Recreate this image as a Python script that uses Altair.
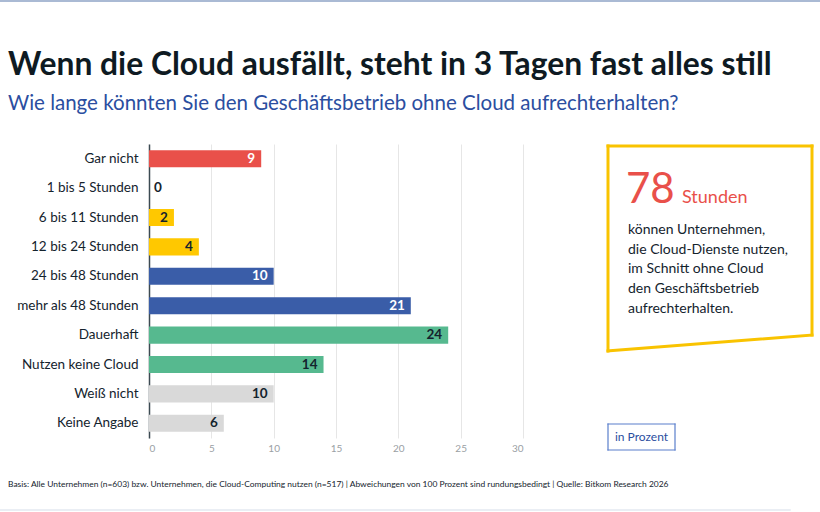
import altair as alt
import pandas as pd

# Survey answers and shares (in percent)
categories = [
    "Gar nicht", "1 bis 5 Stunden", "6 bis 11 Stunden", "12 bis 24 Stunden",
    "24 bis 48 Stunden", "mehr als 48 Stunden", "Dauerhaft",
    "Nutzen keine Cloud", "Weiß nicht", "Keine Angabe",
]
values = [9, 0, 2, 4, 10, 21, 24, 14, 10, 6]
groups = ["rot", "gelb", "gelb", "gelb", "blau", "blau", "gruen", "gruen", "grau", "grau"]
x_ticks = [0, 5, 10, 15, 20, 25, 30]

group_colors = {
    "rot": "#e9504a", "gelb": "#ffc800", "blau": "#3a5da8",
    "gruen": "#56b98f", "grau": "#d9d9d9",
}
label_colors = {
    "rot": "#ffffff", "gelb": "#14232d", "blau": "#ffffff",
    "gruen": "#14232d", "grau": "#14232d",
}

df = pd.DataFrame({"Antwort": categories, "Wert": values, "Gruppe": groups})
df["Farbe"] = df["Gruppe"].map(group_colors)
df["Textfarbe"] = df["Gruppe"].map(label_colors)

FONT = "Lato"
DARK = "#14232d"
BLUE = "#2b4ea0"
PLOT_W = 374
PLOT_H = 294
LEFT = 149
TOP = 144

y_enc = alt.Y(
    "Antwort:N", sort=categories, title=None,
    scale=alt.Scale(paddingInner=0.42, paddingOuter=0.21),
    axis=alt.Axis(
        labelFont=FONT, labelFontSize=13.5, labelColor=DARK, labelPadding=11,
        ticks=False, domain=True, domainColor="#3c4a52", domainWidth=1.5,
        grid=False,
    ),
)
x_enc = alt.X(
    "Wert:Q", title=None,
    scale=alt.Scale(domain=[0, 30], nice=False),
    axis=alt.Axis(
        values=x_ticks, labelFont=FONT, labelFontSize=10, labelColor="#9aa0a4",
        labelPadding=5, ticks=False, domain=False, grid=True,
        gridColor="#e6e6e6", gridWidth=1,
    ),
)

bars = alt.Chart(df).mark_bar().encode(
    x=x_enc, y=y_enc, color=alt.Color("Farbe:N", scale=None, legend=None)
)

inside_labels = alt.Chart(df).transform_filter("datum.Wert > 0").mark_text(
    align="right", baseline="middle", dx=-6, font=FONT, fontSize=13.5,
    fontWeight="bold",
).encode(
    x="Wert:Q", y=alt.Y("Antwort:N", sort=categories),
    text="Wert:Q", color=alt.Color("Textfarbe:N", scale=None, legend=None),
)

zero_labels = alt.Chart(df).transform_filter("datum.Wert == 0").mark_text(
    align="left", baseline="middle", dx=5, font=FONT, fontSize=13.5,
    fontWeight="bold", color=DARK,
).encode(x="Wert:Q", y=alt.Y("Antwort:N", sort=categories), text="Wert:Q")


def text_layer(text, x, y, size, color=DARK, weight="normal", align="left",
               baseline="alphabetic"):
    """A single free-standing text, positioned relative to the plot origin."""
    return alt.Chart(pd.DataFrame({"t": [text]})).mark_text(
        align=align, baseline=baseline, font=FONT, fontSize=size,
        fontWeight=weight, color=color,
    ).encode(text="t:N", x=alt.value(x - LEFT), y=alt.value(y - TOP))


def rule_layer(x1, y1, x2, y2, color, width):
    """A straight line between two page positions."""
    return alt.Chart(pd.DataFrame({"k": [0]})).mark_rule(
        color=color, strokeWidth=width, strokeCap="square",
    ).encode(
        x=alt.value(x1 - LEFT), y=alt.value(y1 - TOP),
        x2=alt.value(x2 - LEFT), y2=alt.value(y2 - TOP),
    )


title = text_layer("Wenn die Cloud ausfällt, steht in 3 Tagen fast alles still",
                   8, 75, 31.8, color="#0e1a22", weight="bold")
subtitle = text_layer("Wie lange könnten Sie den Geschäftsbetrieb ohne Cloud aufrechterhalten?",
                      8, 110, 20.5, color=BLUE)
footnote = text_layer(
    "Basis: Alle Unternehmen (n=603) bzw. Unternehmen, die Cloud-Computing nutzen (n=517) | "
    "Abweichungen von 100 Prozent sind rundungsbedingt | Quelle: Bitkom Research 2026",
    8, 487, 8.45,
)

# Highlight box with the average duration
YELLOW = "#f9c300"
box = [
    rule_layer(608, 146, 812, 146, YELLOW, 3),
    rule_layer(812, 146, 812, 335, YELLOW, 3),
    rule_layer(812, 335, 608, 351, YELLOW, 3),
    rule_layer(608, 351, 608, 146, YELLOW, 3),
]
big_number = text_layer("78", 626, 203, 42, color="#e9504a")
unit = text_layer("Stunden", 682, 203, 18, color="#e9504a")
body_lines = [
    "können Unternehmen,",
    "die Cloud-Dienste nutzen,",
    "im Schnitt ohne Cloud",
    "den Geschäftsbetrieb",
    "aufrechterhalten.",
]
body = [text_layer(line, 628, 234 + i * 19.7, 14) for i, line in enumerate(body_lines)]

# "in Prozent" unit badge
BADGE = "#5a7fcc"
badge = [
    rule_layer(608, 424, 675, 424, BADGE, 1.2),
    rule_layer(675, 424, 675, 450, BADGE, 1.2),
    rule_layer(675, 450, 608, 450, BADGE, 1.2),
    rule_layer(608, 450, 608, 424, BADGE, 1.2),
]
badge_text = text_layer("in Prozent", 641.5, 437, 12, color="#2b4ea0",
                        align="center", baseline="middle")

# Thin page rules at the top and bottom
top_rule = rule_layer(0, 1, 820, 1, "#8ea3c6", 1.5)
bottom_rule = rule_layer(0, 510, 790, 510, "#e3e8f1", 1.5)

chart = alt.layer(
    bars, inside_labels, zero_labels, title, subtitle, footnote,
    *box, big_number, unit, *body, *badge, badge_text, top_rule, bottom_rule,
).properties(
    width=PLOT_W, height=PLOT_H,
    autosize=alt.AutoSizeParams(type="none"),
    padding={"left": LEFT, "top": TOP, "right": 820 - LEFT - PLOT_W,
             "bottom": 512 - TOP - PLOT_H},
    background="#ffffff",
).configure_view(stroke=None)

chart.save("out.html", embed_options={"renderer": "svg", "actions": False})
